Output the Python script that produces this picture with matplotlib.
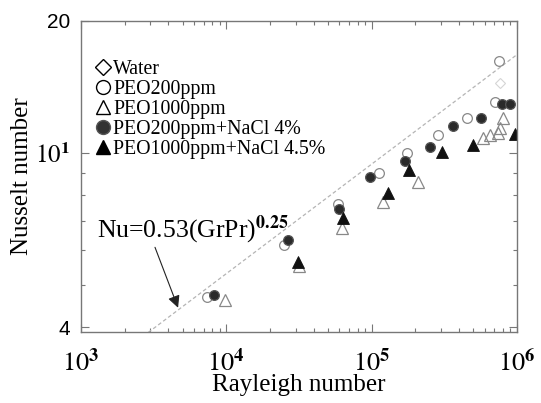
import numpy as np
import matplotlib.pyplot as plt
from matplotlib.lines import Line2D
from matplotlib.ticker import LogLocator, NullFormatter

plt.rcParams["font.family"] = ["Liberation Serif", "DejaVu Serif"]
plt.rcParams["mathtext.fontset"] = "stix"

# data
ra_peo200 = [7.4e3, 2.5e4, 5.9e4, 1.12e5, 1.75e5, 2.86e5, 4.54e5, 7.07e5, 7.53e5]
nu_peo200 = [4.69, 6.16, 7.64, 9.0, 10.0, 10.98, 12.0, 13.07, 16.2]

ra_peo1000 = [9.8e3, 3.16e4, 6.26e4, 1.2e5, 2.09e5, 5.84e5, 6.53e5, 7.41e5, 7.65e5, 8.02e5]
nu_peo1000 = [4.61, 5.52, 6.73, 7.72, 8.58, 10.81, 11.0, 11.1, 11.4, 12.0]

ra_peo200_nacl = [8.2e3, 2.66e4, 5.97e4, 9.75e4, 1.7e5, 2.52e5, 3.63e5, 5.66e5, 7.89e5, 8.97e5]
nu_peo200_nacl = [4.74, 6.32, 7.44, 8.81, 9.58, 10.31, 11.51, 12.01, 12.93, 12.93]

ra_peo1000_nacl = [3.11e4, 6.36e4, 1.3e5, 1.81e5, 3.05e5, 4.99e5, 9.7e5]
nu_peo1000_nacl = [5.63, 7.10, 8.10, 9.14, 10.04, 10.42, 11.04]

ra_water = [7.65e5]
nu_water = [14.4]

fit_c = 0.53
fit_n = 0.25

fig = plt.figure(figsize=(5.41, 4.03), dpi=100)
ax = fig.add_axes([0.1497, 0.1762, 0.8059, 0.7717])

# correlation line
ra_fit = np.logspace(np.log10(2.9e3), 6, 100)
ax.plot(ra_fit, fit_c * ra_fit ** fit_n, color="#b5b5b5", lw=0.9,
        linestyle=(0, (3, 2)))

ax.plot(ra_water, nu_water, linestyle="none", marker="D", ms=5,
        mfc="none", mec="#d5d5d5", mew=0.8)
ax.plot(ra_peo200, nu_peo200, linestyle="none", marker="o", ms=7,
        mfc="none", mec="#888888", mew=0.9)
ax.plot(ra_peo1000, nu_peo1000, linestyle="none", marker="^", ms=8,
        mfc="none", mec="#888888", mew=0.9)
ax.plot(ra_peo200_nacl, nu_peo200_nacl, linestyle="none", marker="o", ms=7,
        mfc="#2a2a2a", mec="#555555", mew=0.9)
ax.plot(ra_peo1000_nacl, nu_peo1000_nacl, linestyle="none", marker="^", ms=8,
        mfc="#111111", mec="#111111", mew=0.6)

ax.set_xscale("log")
ax.set_yscale("log")
ax.set_xlim(1e3, 1e6)
ax.set_ylim(3.9, 20)

ax.set_xticks([1e3, 1e4, 1e5, 1e6])
ax.set_xticklabels([r"$10^{\mathbf{3}}$", r"$10^{\mathbf{4}}$",
                    r"$10^{\mathbf{5}}$", r"$10^{\mathbf{6}}$"], fontsize=19)
ax.xaxis.set_minor_locator(LogLocator(base=10, subs=np.arange(2, 10)))
ax.xaxis.set_minor_formatter(NullFormatter())

ax.set_yticks([4, 10, 20])
ax.set_yticklabels(["4", r"$10^{\mathbf{1}}$", "20"])
ax.yaxis.set_minor_locator(LogLocator(base=10, subs=np.arange(2, 10)))
ax.yaxis.set_minor_formatter(NullFormatter())
ylabs = ax.get_yticklabels()
for lab in ylabs:
    lab.set_fontsize(15)
ylabs[0].set_family("Liberation Sans")
ylabs[2].set_family("Liberation Sans")
ylabs[1].set_fontsize(18)

ax.tick_params(which="both", direction="in", top=True, right=True,
               color="#777777", width=0.8)
ax.tick_params(which="major", length=6)
ax.tick_params(which="minor", length=3)
ax.tick_params(axis="x", which="major", pad=12)
ax.tick_params(axis="y", which="major", pad=8)
for s in ax.spines.values():
    s.set_color("#777777")
    s.set_linewidth(1.0)

ax.set_xlabel("Rayleigh number", fontsize=18, labelpad=-2)
ax.set_ylabel("Nusselt number", fontsize=18, labelpad=1)

ax.text(1.29e3, 6.42, r"Nu=0.53(GrPr)$^{\mathbf{0.25}}$", fontsize=18.5,
        va="baseline", ha="left")
ax.annotate("", xy=(4.73e3, 4.37), xytext=(3.18e3, 6.17),
            arrowprops=dict(arrowstyle="-|>", color="#222222", lw=0.8,
                            mutation_scale=18))

handles = [
    Line2D([], [], linestyle="none", marker="D", ms=8, mfc="none", mec="black", mew=1.0),
    Line2D([], [], linestyle="none", marker="o", ms=10, mfc="none", mec="black", mew=1.0),
    Line2D([], [], linestyle="none", marker="^", ms=10, mfc="none", mec="black", mew=1.0),
    Line2D([], [], linestyle="none", marker="o", ms=10, mfc="#333333", mec="#555555", mew=1.0),
    Line2D([], [], linestyle="none", marker="^", ms=10, mfc="black", mec="black", mew=1.0),
]
labels = ["Water", "PEO200ppm", "PEO1000ppm", "PEO200ppm+NaCl 4%",
          "PEO1000ppm+NaCl 4.5%"]
ax.legend(handles, labels, loc="upper left", bbox_to_anchor=(-0.015, 0.945),
          frameon=False, fontsize=14.3, handlelength=0.7, handletextpad=0.15,
          labelspacing=0.05, borderaxespad=0.5, borderpad=0.6)

fig.savefig("out.png", dpi=100)
